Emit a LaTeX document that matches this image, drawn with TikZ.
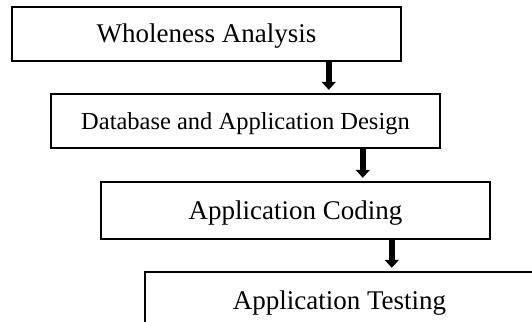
\documentclass[tikz,border=0pt]{standalone}
\usepackage{fontspec}
\setmainfont{Liberation Serif}
\usetikzlibrary{arrows.meta,calc}
\begin{document}
\begin{tikzpicture}[x=1pt,y=-1pt,
  stage/.style={draw=black,line width=2.4pt,rectangle,minimum width=389pt,minimum height=54pt,
    inner sep=0pt,text height=18pt,text depth=0pt,font=\fontsize{27}{30}\selectfont},
  flow/.style={line width=5.5pt,-{Triangle[width=14pt,length=8pt]}}]
\useasboundingbox (0,0) rectangle (532,321);
\node[stage] (b1) at (206.5,34) {Wholeness Analysis};
\node[stage,font=\fontsize{24.5}{28}\selectfont,text height=16pt] (b2) at (245.5,121) {Database and Application Design};
\node[stage,minimum height=57pt] (b3) at (295.5,210.5) {Application Coding};
\node[stage,minimum height=56pt] (b4) at (339.5,300) {Application Testing};
\coordinate (s1) at ($(b1.south west)+(318,0)$);
\coordinate (s2) at ($(b2.south west)+(313,0)$);
\coordinate (s3) at ($(b3.south west)+(292,0)$);
\draw[flow] (s1) -- ($(s1 |- b2.north)+(0,-3)$);
\draw[flow] (s2) -- ($(s2 |- b3.north)+(0,-3)$);
\draw[flow] (s3) -- ($(s3 |- b4.north)+(0,-3)$);
\end{tikzpicture}
\end{document}
